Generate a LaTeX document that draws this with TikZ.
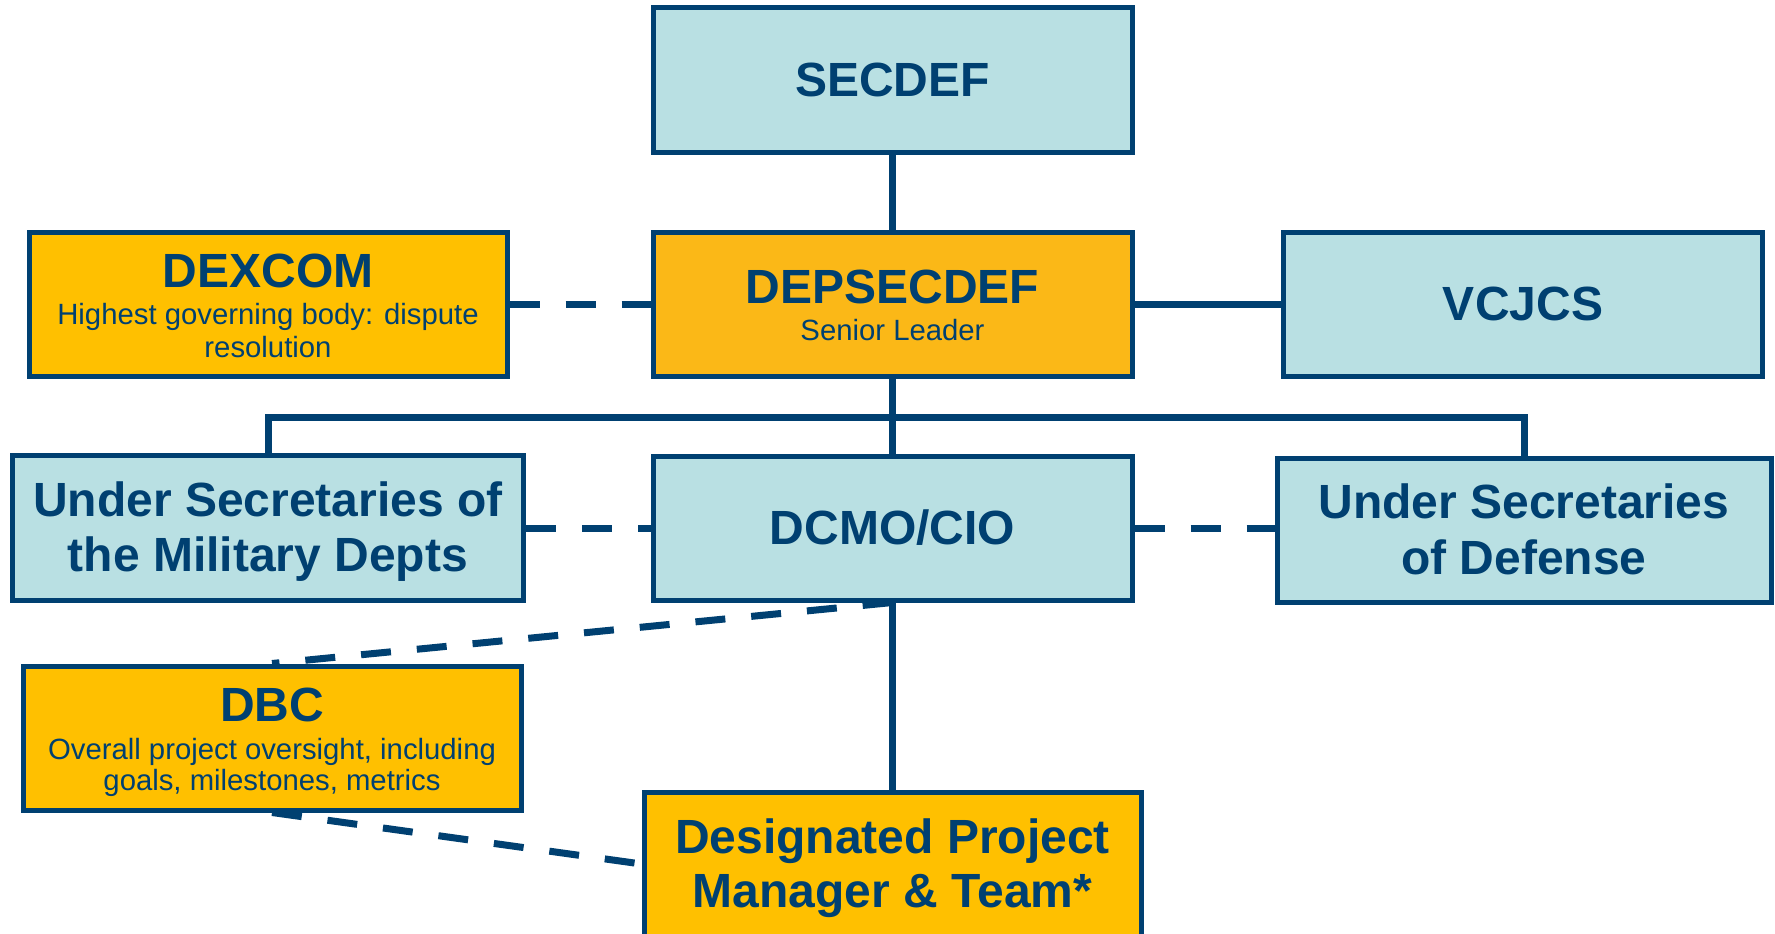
\documentclass[tikz,border=0pt]{standalone}
\usepackage{fontspec}
\setmainfont{Liberation Sans}
\definecolor{navy}{HTML}{004071}
\definecolor{lblue}{HTML}{B9E0E3}
\definecolor{gold}{HTML}{FFC000}
\definecolor{amber}{HTML}{FBB817}
\pgfdeclarelayer{background}
\pgfsetlayers{background,main}
\begin{document}
\begin{tikzpicture}[x=1pt,y=-1pt,
  bbox/.style={draw=navy, line width=5pt, fill=lblue, inner sep=0pt, minimum height=144pt},
  ybox/.style={bbox, fill=gold},
  ttl/.style={anchor=base, text=navy, font=\fontsize{48}{55}\selectfont\bfseries, inner sep=0pt},
  sub/.style={anchor=base, text=navy, font=\fontsize{29.3}{32}\selectfont, inner sep=0pt},
  conn/.style={draw=navy, line width=7pt},
  dconn/.style={conn, dash pattern=on 30pt off 26pt}]
\useasboundingbox (0,0) rectangle (1775,934);

% boxes
\node[bbox, minimum width=479pt] (secdef) at (892.5,80) {};
\node[ybox, fill=amber, minimum width=479pt] (depsec) at (892.5,304) {};
\node[ybox, minimum width=478pt] (dexcom) at (268,304) {};
\node[bbox, minimum width=479pt] (vcjcs) at (1523,304) {};
\node[bbox, minimum width=511pt, minimum height=145pt] (usmil) at (268,528) {};
\node[bbox, minimum width=479pt] (dcmo) at (892.5,528) {};
\node[bbox, minimum width=494pt] (usdef) at (1524,530) {};
\node[ybox, minimum width=498pt] (dbc) at (272,738) {};
\node[ybox, minimum width=497pt] (dpm) at (892.5,864) {};

% texts
\node[ttl] (secdefT) at (892.5,96.7) {SECDEF};
\node[ttl] (dexcomT) at (268,287) {DEXCOM};
\node[sub] (dexcomS1) at (268,324.5) {Highest governing body: dispute};
\node[sub] (dexcomS2) at (268,357) {resolution};
\node[ttl] (depsecT) at (892.5,303.3) {DEPSECDEF};
\node[sub] (depsecS) at (892.5,340.7) {Senior Leader};
\node[ttl] (vcjcsT) at (1523,320) {VCJCS};
\node[ttl] (usmilT1) at (268,516.7) {Under Secretaries of};
\node[ttl] (usmilT2) at (268,571.7) {the Military Depts};
\node[ttl] (dcmoT) at (892.5,544) {DCMO/CIO};
\node[ttl] (usdefT1) at (1524,518.3) {Under Secretaries};
\node[ttl] (usdefT2) at (1524,574) {of Defense};
\node[ttl] (dbcT) at (272,721) {DBC};
\node[sub] (dbcS1) at (272,759.3) {Overall project oversight, including};
\node[sub] (dbcS2) at (272,790.7) {goals, milestones, metrics};
\node[ttl] (dpmT1) at (892.5,853.3) {Designated Project};
\node[ttl] (dpmT2) at (892.5,907.3) {Manager \& Team*};

% connectors
\begin{pgfonlayer}{background}
\draw[conn] (secdef.south) -- (depsec.north);
\draw[dconn] (dexcom.east) -- (depsec.west);
\draw[conn] (depsec.east) -- (vcjcs.west);
\draw[conn] (depsec.south) -- (dcmo.north);
\coordinate (bus) at (892.5,417);
\draw[conn] (usmil.north) |- (bus) -| (usdef.north);
\draw[dconn] (usmil.east) -- (dcmo.west);
\draw[dconn] (dcmo.east) -- (dcmo.east -| usdef.west);
\draw[dconn] (dcmo.south) -- (dbc.north);
\draw[conn] (dcmo.south) -- (dpm.north);
\draw[dconn] (dbc.south) -- (dpm.west);
\end{pgfonlayer}
\end{tikzpicture}
\end{document}
